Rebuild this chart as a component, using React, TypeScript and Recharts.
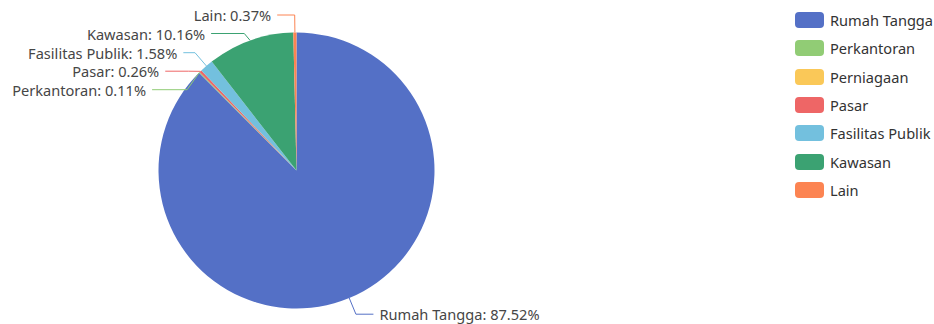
import { PieChart, Pie, Cell, Legend } from 'recharts'

const categories = ['Rumah Tangga', 'Perkantoran', 'Perniagaan', 'Pasar', 'Fasilitas Publik', 'Kawasan', 'Lain']
const shares = [87.52, 0.11, 0, 0.26, 1.58, 10.16, 0.37]
const colors = ['#5470c6', '#91cc75', '#fac858', '#ee6666', '#73c0de', '#3ba272', '#fc8452']

const data = categories.map((name, i) => ({ name, value: shares[i] }))

const CX = 296.5
const CY = 170.5
const R = 138
const LEN1 = 17.5
const LEN2 = 17.5
const TEXT_GAP = 6
const ROW_H = 18.5
const FONT = '"Noto Sans", "DejaVu Sans", sans-serif'
const FONT_SIZE = 14.6

interface LabelPos {
  ex: number
  ey: number
  x2: number
  x3: number
  tx: number
  y: number
  dir: number
  color: string
  text: string
}

// echarts-like outer label layout: push overlapping labels down, then bend them onto an ellipse
function layoutLabels(): Record<string, LabelPos> {
  const total = shares.reduce((a, b) => a + b, 0)
  let cum = 0
  const items: LabelPos[] = []
  const byName: Record<string, LabelPos> = {}
  data.forEach((d, i) => {
    const mid = 90 - ((cum + d.value / 2) / total) * 360
    cum += d.value
    if (d.value <= 0) return
    const rad = (mid * Math.PI) / 180
    const c = Math.cos(rad)
    const s = Math.sin(rad)
    const dir = c < 0 ? -1 : 1
    const x2 = CX + (R + LEN1) * c
    const x3 = x2 + dir * LEN2
    const item: LabelPos = {
      ex: CX + R * c,
      ey: CY - R * s,
      x2,
      x3,
      tx: x3 + dir * TEXT_GAP,
      y: CY - (R + LEN1) * s,
      dir,
      color: colors[i],
      text: `${d.name}: ${d.value.toFixed(2)}%`,
    }
    items.push(item)
    byName[d.name] = item
  })

  for (const dir of [-1, 1]) {
    const side = items.filter((it) => it.dir === dir).sort((a, b) => a.y - b.y)
    if (side.length < 2) continue
    let last = -Infinity
    let moved = false
    for (const it of side) {
      if (it.y < last + ROW_H) {
        it.y = last + ROW_H
        moved = true
      }
      last = it.y
    }
    if (!moved) continue
    const rA = R + LEN1
    for (const top of [true, false]) {
      const semi = side.filter((it) => (it.y > CY) !== top)
      if (!semi.length) continue
      let maxY = 0
      let rB = rA
      for (const it of semi) {
        const dy = Math.abs(it.y - CY)
        if (dy >= maxY) {
          const dx = it.tx - CX - LEN2 * dir
          rB = Math.abs(dx) < rA ? Math.sqrt((dy * dy) / (1 - (dx * dx) / (rA * rA))) : rA
          maxY = dy
        }
      }
      for (const it of semi) {
        const dy = Math.abs(it.y - CY)
        const dx = Math.sqrt(Math.max(0, 1 - (dy * dy) / (rB * rB))) * rA
        it.tx = CX + (dx + LEN2) * dir
        it.x3 = it.tx - dir * TEXT_GAP
      }
    }
  }
  return byName
}

const labelPos = layoutLabels()

function renderLabel(props: any) {
  const name = props?.payload?.name ?? props?.name
  const p = labelPos[name]
  if (!p) return null
  return (
    <g>
      <polyline
        points={`${p.ex},${p.ey} ${p.x2},${p.y} ${p.x3},${p.y}`}
        fill="none"
        stroke={p.color}
        strokeWidth={1}
      />
      <text
        x={p.tx}
        y={p.y}
        textAnchor={p.dir < 0 ? 'end' : 'start'}
        dominantBaseline="central"
        fill="#464646"
        fontSize={FONT_SIZE}
        fontFamily={FONT}
      >
        {p.text}
      </text>
    </g>
  )
}

function renderLegend() {
  return (
    <div style={{ fontFamily: FONT, fontSize: FONT_SIZE, color: '#333' }}>
      {categories.map((name, i) => (
        <div key={name} style={{ display: 'flex', alignItems: 'center', height: 16.4, marginBottom: 11.9 }}>
          <span
            style={{
              display: 'inline-block',
              flex: 'none',
              width: 29,
              height: 16,
              borderRadius: 4,
              background: colors[i],
              marginRight: 6,
            }}
          />
          <span style={{ whiteSpace: 'nowrap' }}>{name}</span>
        </div>
      ))}
    </div>
  )
}

export default function App() {
  return (
    <div style={{ position: 'absolute', left: 0, top: 0, width: 934, height: 324, background: '#fff', overflow: 'hidden' }}>
      <PieChart width={934} height={324} margin={{ top: 0, right: 0, bottom: 0, left: 0 }}>
        <Pie
          data={data}
          dataKey="value"
          nameKey="name"
          cx={CX}
          cy={CY}
          outerRadius={R}
          startAngle={90}
          endAngle={-270}
          stroke="none"
          label={renderLabel}
          labelLine={false}
          isAnimationActive={false}
        >
          {data.map((d, i) => (
            <Cell key={d.name} fill={colors[i]} />
          ))}
        </Pie>
        <Legend
          content={renderLegend}
          wrapperStyle={{ position: 'absolute', left: 795, top: 12, width: 139, right: 'auto', bottom: 'auto' }}
        />
      </PieChart>
    </div>
  )
}
